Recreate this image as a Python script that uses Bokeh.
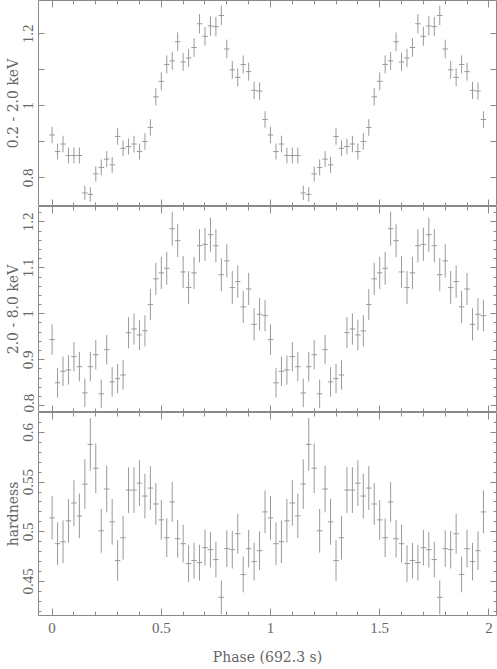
import numpy as np
from bokeh.plotting import figure
from bokeh.layouts import column
from bokeh.models import (FixedTicker, LinearAxis, Range1d, GlobalInlineStyleSheet,
                          CustomLabelingPolicy)
from bokeh.embed import file_html
from bokeh.resources import INLINE

# ---------------- data ----------------
n_bins = 40                      # phase bins per cycle (shown twice)
bin_width = 1.0 / n_bins
phase = np.arange(2 * n_bins) * bin_width

soft = [0.919, 0.873, 0.894, 0.862, 0.862, 0.862, 0.758, 0.754, 0.811, 0.829,
        0.852, 0.836, 0.915, 0.882, 0.887, 0.894, 0.873, 0.901, 0.940, 1.025,
        1.068, 1.115, 1.125, 1.178, 1.122, 1.133, 1.162, 1.228, 1.193, 1.222,
        1.220, 1.251, 1.158, 1.100, 1.079, 1.115, 1.095, 1.043, 1.041, 0.962]
soft_err = [0.023, 0.022, 0.023, 0.022, 0.022, 0.022, 0.020, 0.020, 0.021, 0.022,
            0.022, 0.022, 0.023, 0.022, 0.022, 0.023, 0.022, 0.023, 0.023, 0.024,
            0.025, 0.025, 0.025, 0.026, 0.025, 0.025, 0.026, 0.027, 0.026, 0.027,
            0.027, 0.027, 0.026, 0.025, 0.025, 0.025, 0.025, 0.024, 0.024, 0.023]

hard = [0.944, 0.850, 0.875, 0.878, 0.907, 0.885, 0.828, 0.885, 0.911, 0.826,
        0.922, 0.852, 0.859, 0.867, 0.959, 0.967, 0.954, 0.963, 1.020, 1.076,
        1.089, 1.099, 1.185, 1.159, 1.091, 1.057, 1.089, 1.148, 1.151, 1.172,
        1.148, 1.085, 1.115, 1.057, 1.070, 1.015, 1.054, 0.977, 0.999, 0.996]
hard_err = [0.033, 0.032, 0.032, 0.032, 0.032, 0.032, 0.031, 0.032, 0.032, 0.031,
            0.032, 0.032, 0.032, 0.032, 0.034, 0.034, 0.033, 0.034, 0.034, 0.035,
            0.035, 0.036, 0.037, 0.036, 0.035, 0.036, 0.035, 0.036, 0.036, 0.037,
            0.036, 0.036, 0.036, 0.036, 0.035, 0.035, 0.035, 0.035, 0.035, 0.034]

hardness = [0.514, 0.488, 0.490, 0.511, 0.529, 0.516, 0.548, 0.588, 0.564, 0.501,
            0.543, 0.510, 0.471, 0.494, 0.542, 0.542, 0.549, 0.536, 0.544, 0.528,
            0.512, 0.494, 0.530, 0.493, 0.488, 0.468, 0.471, 0.469, 0.484, 0.482,
            0.472, 0.434, 0.483, 0.482, 0.498, 0.457, 0.483, 0.470, 0.481, 0.520]
hardness_err = [0.022, 0.0215, 0.0215, 0.022, 0.023, 0.0225, 0.025, 0.0265, 0.025, 0.022,
                0.0235, 0.023, 0.0205, 0.022, 0.023, 0.023, 0.023, 0.0225, 0.022, 0.021,
                0.020, 0.0195, 0.020, 0.019, 0.019, 0.0185, 0.018, 0.018, 0.018, 0.018,
                0.018, 0.017, 0.0185, 0.019, 0.020, 0.018, 0.019, 0.019, 0.0195, 0.0215]

x_ticks = [0, 0.5, 1, 1.5, 2]
x_tick_labels = ["0", "0.5", "1", "1.5", "2"]
x_minor = [round(0.1 * i, 1) for i in range(21)]

soft_ticks = [0.8, 1.0, 1.2]
soft_tick_labels = ["0.8", "1", "1.2"]
soft_minor = [0.7, 0.9, 1.1, 1.3]

hard_ticks = [0.8, 0.9, 1.0, 1.1, 1.2]
hard_tick_labels = ["0.8", "0.9", "1", "1.1", "1.2"]
hard_minor = [round(0.78 + 0.02 * i, 2) for i in range(24)]

hr_ticks = [0.45, 0.5, 0.55, 0.6]
hr_tick_labels = ["0.45", "0.5", "0.55", "0.6"]
hr_minor = [round(0.41 + 0.01 * i, 2) for i in range(22)]

x_title = "Phase (692.3 s)"
titles = ["0.2 - 2.0 keV", "2.0 - 8.0 keV", "hardness"]

# ---------------- style ----------------
TICK_FONT = "Liberation Serif"
LABEL_FONT = "DejaVu Serif"
TXT = "#666666"
MARK = "#9a9a9a"
FRAME = "#8a8a8a"
X_RANGE = (-0.0623, 2.0348)
NO_LABELS = CustomLabelingPolicy(code="return []")


def style_axis(ax, ticks, labels, minor, major_len, minor_len, show_labels):
    ax.ticker = FixedTicker(ticks=ticks, minor_ticks=minor)
    ax.major_label_overrides = {t: l for t, l in zip(ticks, labels)}
    ax.major_tick_in = major_len
    ax.major_tick_out = 0
    ax.minor_tick_in = minor_len
    ax.minor_tick_out = 0
    ax.major_tick_line_color = FRAME
    ax.minor_tick_line_color = FRAME
    ax.axis_line_color = None
    ax.major_label_text_font = TICK_FONT
    ax.major_label_text_color = TXT
    ax.axis_label_text_font = LABEL_FONT
    ax.axis_label_text_color = TXT
    ax.axis_label_text_font_style = "normal"
    ax.axis_label_text_font_size = "14px"
    if show_labels:
        ax.major_label_text_font_size = "15px"
    else:
        ax.major_label_text_font_size = "0px"
        ax.major_label_standoff = 0
        ax.major_label_policy = NO_LABELS


def panel(vals, errs, yr, yt, ytl, ymin, ymaj_len, ymin_len, ylabel, fh, bottom):
    v = np.array(vals + vals)
    e = np.array(errs + errs)
    p = figure(frame_width=458, frame_height=fh,
               x_range=Range1d(*X_RANGE), y_range=Range1d(*yr),
               output_backend="svg", toolbar_location=None,
               min_border_left=38, min_border_right=1, min_border_top=0,
               min_border_bottom=53 if bottom else 0,
               background_fill_color="white", border_fill_color="white")
    p.grid.visible = False
    p.outline_line_color = FRAME
    p.outline_line_width = 1

    p.segment(x0=phase, y0=v - e, x1=phase, y1=v + e, line_color=MARK, line_width=1)
    p.segment(x0=phase - bin_width / 2, y0=v, x1=phase + bin_width / 2, y1=v,
              line_color=MARK, line_width=1)

    # left axis
    left = p.yaxis[0]
    style_axis(left, yt, ytl, ymin, ymaj_len, ymin_len, True)
    left.major_label_orientation = "vertical"
    left.major_label_standoff = 5
    left.axis_label = ylabel
    left.axis_label_standoff = 0
    # right axis
    right = LinearAxis()
    style_axis(right, yt, ytl, ymin, ymaj_len, ymin_len, False)
    p.add_layout(right, "right")

    # bottom axis
    below = p.xaxis[0]
    style_axis(below, x_ticks, x_tick_labels, x_minor, 7, 4, bottom)
    if bottom:
        below.axis_label = x_title
        below.major_label_standoff = 7
        below.axis_label_standoff = 13
    # top axis
    above = LinearAxis()
    style_axis(above, x_ticks, x_tick_labels, x_minor, 7, 4, False)
    p.add_layout(above, "above")
    return p


p1 = panel(soft, soft_err, (0.7204, 1.2926), soft_ticks, soft_tick_labels, soft_minor,
           6, 6, titles[0], 206, False)
p2 = panel(hard, hard_err, (0.7854, 1.2333), hard_ticks, hard_tick_labels, hard_minor,
           6, 3, titles[1], 206, False)
p3 = panel(hardness, hardness_err, (0.4157, 0.6201), hr_ticks, hr_tick_labels, hr_minor,
           6, 3, titles[2], 203, True)

layout = column(p1, p2, p3, spacing=0,
                stylesheets=[GlobalInlineStyleSheet(css="html, body { margin: 0; padding: 0; }")])

open("out.html", "w").write(file_html(layout, INLINE))
